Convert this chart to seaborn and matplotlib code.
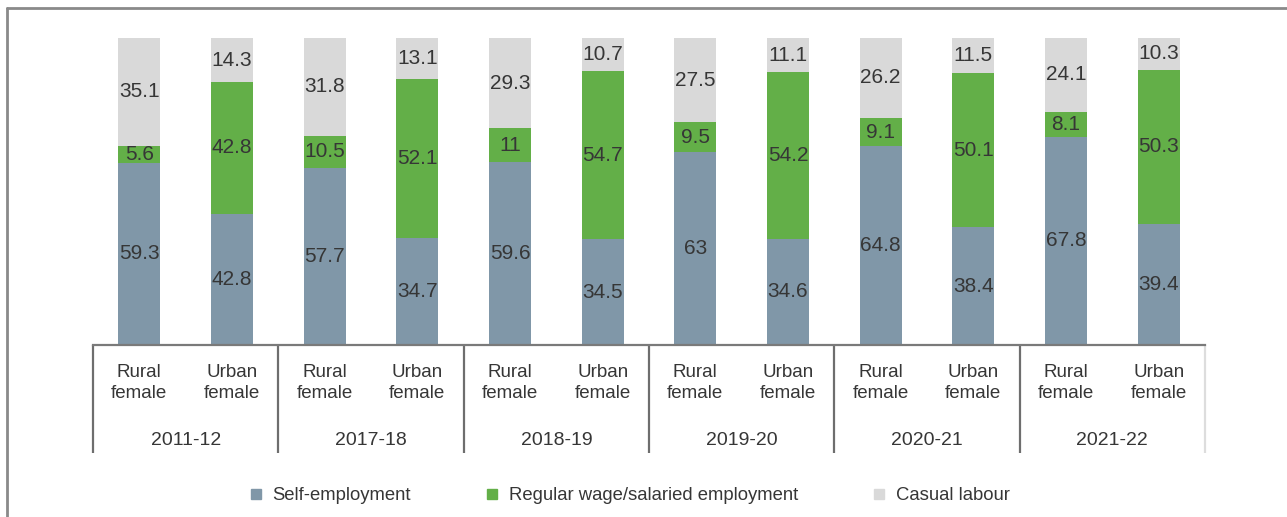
import matplotlib
matplotlib.use("Agg")
import matplotlib.pyplot as plt
from matplotlib.lines import Line2D
import seaborn as sns
import pandas as pd

years = ["2011-12", "2017-18", "2018-19", "2019-20", "2020-21", "2021-22"]
areas = ["Rural\nfemale", "Urban\nfemale"]

self_employment = [59.3, 42.8, 57.7, 34.7, 59.6, 34.5, 63.0, 34.6, 64.8, 38.4, 67.8, 39.4]
regular_wage = [5.6, 42.8, 10.5, 52.1, 11.0, 54.7, 9.5, 54.2, 9.1, 50.1, 8.1, 50.3]
casual_labour = [35.1, 14.3, 31.8, 13.1, 29.3, 10.7, 27.5, 11.1, 26.2, 11.5, 24.1, 10.3]

series_names = ["Self-employment", "Regular wage/salaried employment", "Casual labour"]
colors = ["#8097a8", "#63af48", "#d9d9d9"]

sns.set_theme(style="white")
plt.rcParams["font.family"] = ["Liberation Sans", "DejaVu Sans"]

keys = [f"{y} {a.split()[0]}" for y in years for a in areas]
df = pd.DataFrame({
    "key": keys,
    "self": self_employment,
    "regular": regular_wage,
    "casual": casual_labour,
})
df["lvl1"] = df["self"]
df["lvl2"] = df["self"] + df["regular"]
df["lvl3"] = df["lvl2"] + df["casual"]

W, H = 1287, 517
fig = plt.figure(figsize=(W / 100, H / 100), dpi=100)
ax = fig.add_axes([93 / W, 172 / H, (1205 - 93) / W, (479 - 172) / H])

# stacked bars: draw cumulative totals from the top layer downwards
for col, c in zip(["lvl3", "lvl2", "lvl1"], colors[::-1]):
    sns.barplot(data=df, x="key", y=col, order=keys, color=c, width=0.45,
                saturation=1, ax=ax, linewidth=0)

ax.set_xlim(-0.5, len(keys) - 0.5)
ax.set_ylim(0, 100)
ax.set_xlabel("")
ax.set_ylabel("")
ax.set_xticks([])
ax.set_yticks([])
for s in ["top", "right", "left"]:
    ax.spines[s].set_visible(False)
ax.spines["bottom"].set_color("#7a7a7a")
ax.spines["bottom"].set_linewidth(1.6)

txt_color = "#363636"
fs_val = 15


def fmt(v):
    return f"{v:g}"


for i in range(len(keys)):
    bottoms = [0, df["lvl1"][i], df["lvl2"][i]]
    vals = [df["self"][i], df["regular"][i], df["casual"][i]]
    for b, v in zip(bottoms, vals):
        ax.text(i, b + v / 2, fmt(v), ha="center", va="center",
                fontsize=fs_val, color=txt_color)

# two-level category axis
trans = ax.get_xaxis_transform()
for i, k in enumerate(keys):
    ax.text(i, -0.125, areas[i % 2], ha="center", va="center", fontsize=13.5,
            color=txt_color, linespacing=1.3, transform=trans, clip_on=False)
for g, y in enumerate(years):
    ax.text(2 * g + 0.5, -0.312, y, ha="center", va="center", fontsize=14,
            color=txt_color, transform=trans, clip_on=False)
for g in range(len(years) + 1):
    x = 2 * g - 0.5
    lc = "#6e6e6e" if g < len(years) else "#dddddd"
    ax.plot([x, x], [0, -0.352], color=lc, lw=1.6, transform=trans,
            clip_on=False, solid_capstyle="butt")

# legend
handles = [Line2D([], [], marker="s", linestyle="none", markersize=7,
                  markerfacecolor=c, markeredgecolor=c) for c in colors]
fig.legend(handles, series_names, loc="center", bbox_to_anchor=(629 / W, 21 / H),
           ncol=3, frameon=False, fontsize=13.3, handlelength=0.8,
           handletextpad=0.5, columnspacing=4.0, labelcolor=txt_color)

# outer frame
fig.add_artist(Line2D([7 / W, 7 / W], [0, 1 - 8 / H], transform=fig.transFigure,
                      color="#8a8a8a", lw=2))
fig.add_artist(Line2D([7 / W, 1], [1 - 8 / H, 1 - 8 / H], transform=fig.transFigure,
                      color="#8a8a8a", lw=2))

fig.savefig("out.png", dpi=100)
